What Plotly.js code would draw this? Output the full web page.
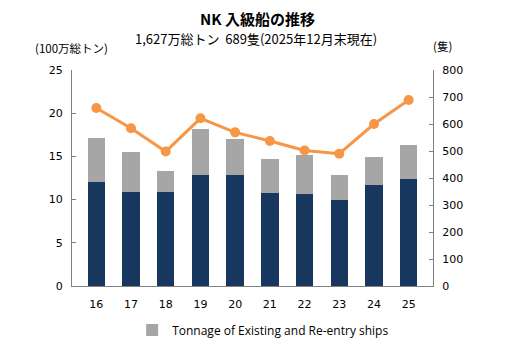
<!DOCTYPE html>
<html>
<head>
<meta charset="utf-8">
<script src="https://cdn.plot.ly/plotly-3.0.1.min.js"></script>
<style>html,body{margin:0;padding:0;background:#fff;}#chart{width:516px;height:353px;}</style>
</head>
<body>
<div id="chart"></div>
<script>
var years = ["16","17","18","19","20","21","22","23","24","25"];
var newTonnage = [12.0, 10.9, 10.9, 12.85, 12.85, 10.8, 10.7, 9.95, 11.7, 12.4];
var existingTonnage = [5.1, 4.6, 2.4, 5.35, 4.15, 3.9, 4.5, 2.9, 3.25, 3.87];
var ships = [659, 584, 498, 621, 569, 537, 502, 490, 600, 689];

var traces = [
  {type:"bar", x:years, y:newTonnage, marker:{color:"#17375E"}, showlegend:false, name:"New", hoverinfo:"y"},
  {type:"bar", x:years, y:existingTonnage, marker:{color:"#A6A6A6"}, name:"Tonnage of Existing and Re-entry ships"},
  {type:"scatter", mode:"lines+markers", x:years, y:ships, yaxis:"y2", line:{color:"#F79646", width:3}, marker:{color:"#F79646", size:10}, showlegend:false, name:"Ships"}
];

var tickFont = {family:"DejaVu Sans, Verdana, sans-serif", size:11, color:"#000"};
var layout = {
  width:516, height:353,
  margin:{l:72, r:83, t:70, b:67},
  paper_bgcolor:"#fff", plot_bgcolor:"#fff",
  barmode:"stack", bargap:0.5,
  showlegend:true,
  legend:{orientation:"h", xref:"container", yref:"container", x:0.51, xanchor:"center", y:(353-330)/353, yanchor:"middle", font:{family:"Open Sans, Liberation Sans, sans-serif", size:12, color:"#000"}},
  xaxis:{type:"category", showline:true, linecolor:"#808080", linewidth:1, ticks:"", tickfont:tickFont, showgrid:false, zeroline:false, ticklabelstandoff:8, automargin:false},
  yaxis:{range:[0,25], dtick:5, showline:true, linecolor:"#808080", linewidth:1, ticks:"inside", ticklen:4, tickcolor:"#808080", tickfont:tickFont, showgrid:false, zeroline:false, ticklabelstandoff:6, automargin:false},
  yaxis2:{range:[0,800], dtick:100, overlaying:"y", side:"right", showline:true, linecolor:"#808080", linewidth:1, ticks:"inside", ticklen:4, tickcolor:"#808080", tickfont:tickFont, showgrid:false, zeroline:false, ticklabelstandoff:6, automargin:false},
  annotations:[
    {text:"<b>NK 入級船の推移</b>", showarrow:false, font:{family:"Noto Sans CJK JP, sans-serif", size:15, color:"#000"}},
    {text:"1,627万総トン  689隻(2025年12月末現在)", showarrow:false, font:{family:"Noto Sans CJK JP, sans-serif", size:13, color:"#000"}},
    {text:"(100万総トン)", showarrow:false, font:{family:"Noto Sans CJK JP, sans-serif", size:11.5, color:"#000"}},
    {text:"(隻)", showarrow:false, font:{family:"Noto Sans CJK JP, sans-serif", size:11.5, color:"#000"}}
  ]
};
function px(x){return (x-72)/361;}
function py(y){return (286-y)/216;}
var a = layout.annotations;
a[0].x = px(257); a[0].y = py(18); a[0].xanchor="center"; a[0].yanchor="middle";
a[1].x = px(256); a[1].y = py(38); a[1].xanchor="center"; a[1].yanchor="middle";
a[2].x = px(33); a[2].y = py(48); a[2].xanchor="left"; a[2].yanchor="middle";
a[3].x = px(442); a[3].y = py(46); a[3].xanchor="center"; a[3].yanchor="middle";
a.forEach(function(o){o.xref="paper"; o.yref="paper";});

Plotly.newPlot("chart", traces, layout, {displayModeBar:false, staticPlot:true});
</script>
</body>
</html>
